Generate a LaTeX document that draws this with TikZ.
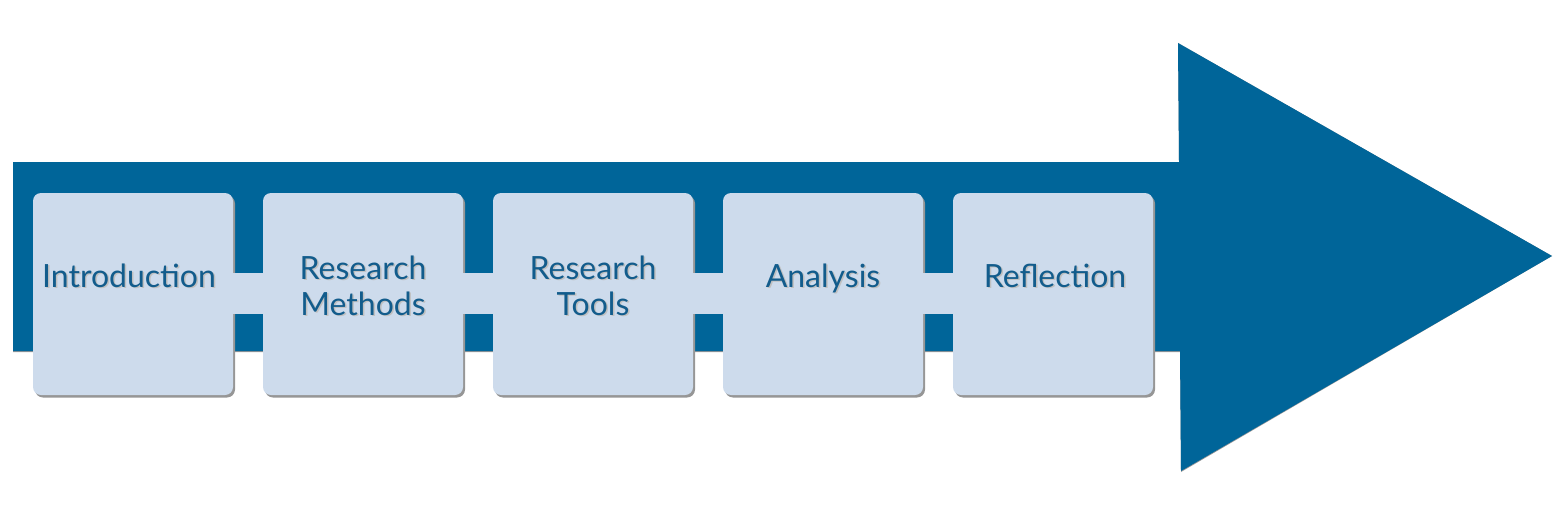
\documentclass[tikz,border=0pt]{standalone}
\usepackage{fontspec}
\setmainfont{Lato}
\definecolor{arrowblue}{RGB}{0,101,153}
\definecolor{boxfill}{RGB}{205,219,236}
\definecolor{txtblue}{RGB}{18,92,140}
\definecolor{shadowgrey}{RGB}{150,150,150}
\begin{document}
\begin{tikzpicture}[x=1pt,y=-1pt,
  stepbox/.style={rectangle, rounded corners=8pt, fill=boxfill, minimum width=200pt, minimum height=202pt, inner sep=0pt},
  boxshadow/.style={rectangle, rounded corners=8pt, fill=shadowgrey, minimum width=200pt, minimum height=202pt, inner sep=0pt},
  label/.style={text=txtblue, font=\fontsize{32}{36}\selectfont, anchor=base, inner sep=0pt},
  labelshadow/.style={text=shadowgrey!60, font=\fontsize{32}{36}\selectfont, anchor=base, inner sep=0pt},
  link/.style={fill=boxfill}]
\useasboundingbox (0,0) rectangle (1556,511);
% big arrow with shadow
\fill[shadowgrey] ([shift={(1.5,2)}]13,162) -- (1179,162) -- (1178,43) -- (1552,256) -- (1181,472) -- (1180,352) -- (13,352) -- cycle;
\fill[arrowblue] (13,162) -- (1179,162) -- (1178,43) -- (1552,256) -- (1181,471) -- (1180,351) -- (13,351) -- cycle;
% box shadows
\foreach \i in {1,...,5}{
  \node[boxshadow] at (133+230*\i-230+2,294+2.5) {};
}
% boxes
\node[stepbox] (b1) at (133,294) {};
\node[stepbox] (b2) at (363,294) {};
\node[stepbox] (b3) at (593,294) {};
\node[stepbox] (b4) at (823,294) {};
\node[stepbox] (b5) at (1053,294) {};
% light links between boxes
\fill[link] ([xshift=-1pt]b1.east |- 0,273) rectangle ([xshift=1pt]b2.west |- 0,314);
\fill[link] ([xshift=-1pt]b2.east |- 0,273) rectangle ([xshift=1pt]b3.west |- 0,314);
\fill[link] ([xshift=-1pt]b3.east |- 0,273) rectangle ([xshift=1pt]b4.west |- 0,314);
\fill[link] ([xshift=-1pt]b4.east |- 0,273) rectangle ([xshift=1pt]b5.west |- 0,314);
% text shadows
\node[labelshadow] at (130.5,288.5) {Introduction};
\node[labelshadow] at (364.5,280.5) {Research};
\node[labelshadow] at (364.5,316.5) {Methods};
\node[labelshadow] at (594.5,280.5) {Research};
\node[labelshadow] at (594.5,316.5) {Tools};
\node[labelshadow] at (824.5,288.5) {Analysis};
\node[labelshadow] at (1056.5,288.5) {Reflection};
% labels
\node[label] (t1) at (129,287) {Introduction};
\node[label] (t2a) at (363,279) {Research};
\node[label] (t2b) at (363,315) {Methods};
\node[label] (t3a) at (593,279) {Research};
\node[label] (t3b) at (593,315) {Tools};
\node[label] (t4) at (823,287) {Analysis};
\node[label] (t5) at (1055,287) {Reflection};
\end{tikzpicture}
\end{document}
